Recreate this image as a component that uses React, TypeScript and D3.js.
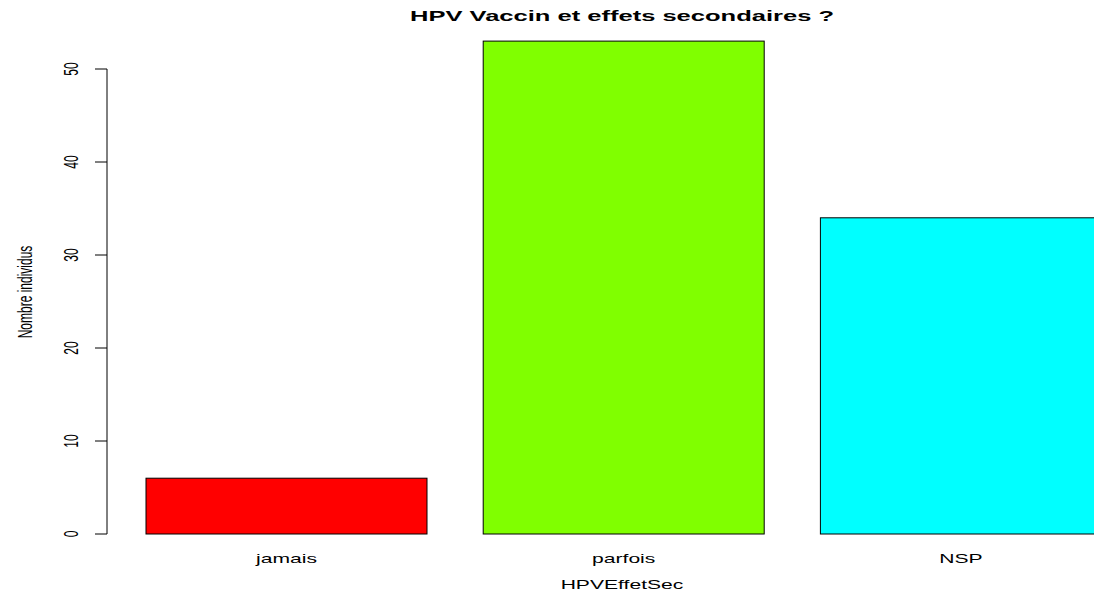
import React from "react";
import * as d3 from "d3";

const categories = ["jamais", "parfois", "NSP"];
const values = [6, 53, 34];
const colors = ["#FF0000", "#80FF00", "#00FFFF"];
const yTicks = [0, 10, 20, 30, 40, 50];
const title = "HPV Vaccin et effets secondaires ?";
const xTitle = "HPVEffetSec";
const yTitle = "Nombre individus";

export default function App() {
  const W = 1094, H = 597;
  const SX = 1.76; // horizontal stretch of the original picture
  const x = d3
    .scaleBand<string>()
    .domain(categories)
    .range([89.8, 1157.6])
    .paddingInner(1 / 6)
    .paddingOuter(1 / 6);
  const y = d3.scaleLinear().domain([0, 50]).range([534, 69]);
  const font = "'Liberation Sans', Arial, Helvetica, sans-serif";
  return (
    <svg
      width={W}
      height={H}
      style={{ position: "absolute", left: 0, top: 0, background: "#fff" }}
    >
      <g transform={`translate(622,21) scale(${SX},1)`}>
        <text textAnchor="middle" fontFamily={font} fontWeight="bold" fontSize={14.5}>
          {title}
        </text>
      </g>
      {categories.map((c, i) => (
        <rect
          key={c}
          x={x(c)!}
          y={y(values[i])}
          width={x.bandwidth()}
          height={y(0) - y(values[i])}
          fill={colors[i]}
          stroke="#000"
          strokeWidth={1}
        />
      ))}
      {categories.map((c) => (
        <g key={c} transform={`translate(${x(c)! + x.bandwidth() / 2},563) scale(${SX},1)`}>
          <text textAnchor="middle" fontFamily={font} fontSize={12}>
            {c}
          </text>
        </g>
      ))}
      <line x1={107} x2={107} y1={y(0)} y2={y(50)} stroke="#000" />
      {yTicks.map((t) => (
        <g key={t}>
          <line x1={95} x2={107} y1={y(t)} y2={y(t)} stroke="#000" />
          <text
            transform={`translate(78,${y(t)}) scale(${SX},1) rotate(-90)`}
            textAnchor="middle"
            fontFamily={font}
            fontSize={12}
          >
            {t}
          </text>
        </g>
      ))}
      <g transform={`translate(622,589) scale(${SX},1)`}>
        <text textAnchor="middle" fontFamily={font} fontSize={12}>
          {xTitle}
        </text>
      </g>
      <text
        transform={`translate(31.5,292) scale(${SX},1) rotate(-90)`}
        textAnchor="middle"
        fontFamily={font}
        fontSize={12}
      >
        {yTitle}
      </text>
    </svg>
  );
}
